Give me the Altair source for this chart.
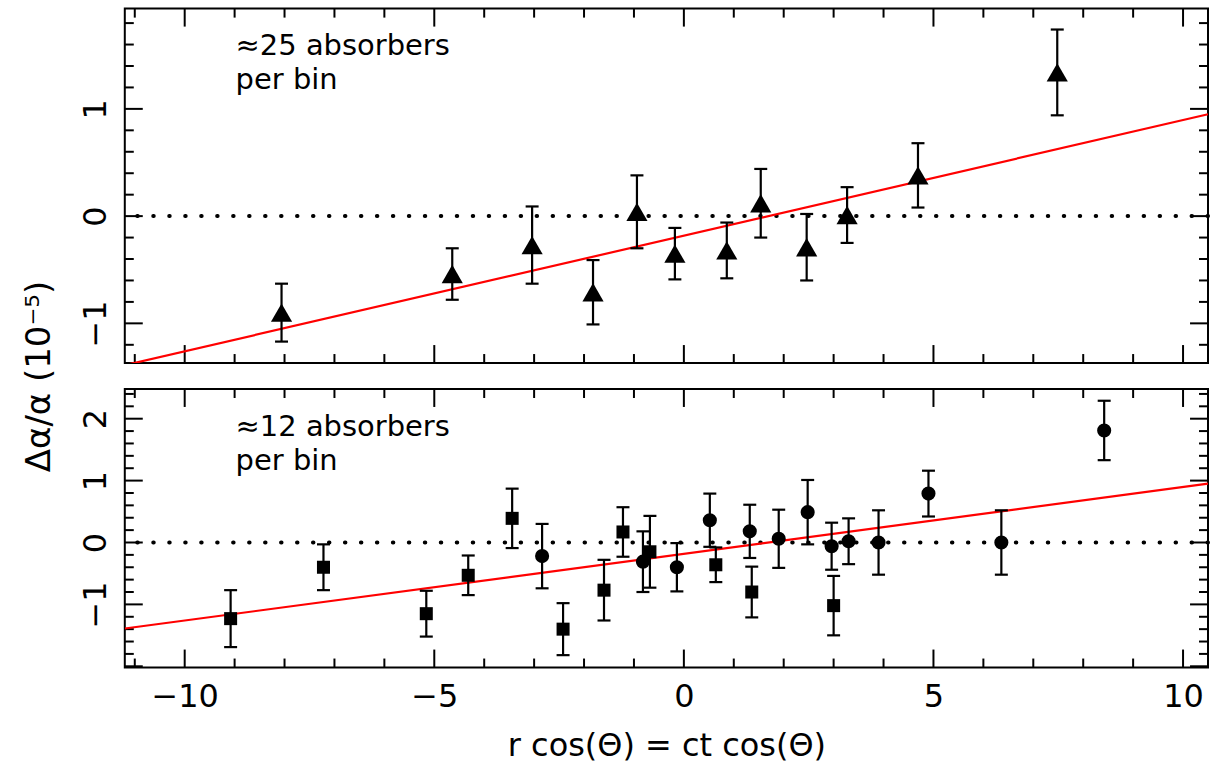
import altair as alt
import pandas as pd

FONT = "DejaVu Sans"

# ---- measurements (units of 1e-5 for delta alpha / alpha) ----
# upper panel: ~25 absorbers per bin
tri_x = [-8.06, -4.64, -3.04, -1.82, -0.94, -0.18, 0.86, 1.54, 2.46, 3.27, 4.69, 7.48]
tri_y = [-0.90, -0.54, -0.27, -0.71, 0.04, -0.35, -0.32, 0.12, -0.29, 0.01, 0.38, 1.34]
tri_err = [0.27, 0.24, 0.36, 0.30, 0.34, 0.24, 0.26, 0.32, 0.31, 0.26, 0.30, 0.40]

# lower panel: ~12 absorbers per bin, two samples
sq_x = [-9.08, -7.22, -5.16, -4.32, -3.44, -2.42, -1.60, -1.22, -0.68, 0.64, 1.36, 3.00]
sq_y = [-1.23, -0.40, -1.15, -0.53, 0.39, -1.40, -0.77, 0.17, -0.15, -0.36, -0.80, -1.02]
sq_err = [0.46, 0.37, 0.37, 0.32, 0.48, 0.42, 0.49, 0.40, 0.58, 0.28, 0.41, 0.48]

ci_x = [-2.84, -0.82, -0.14, 0.52, 1.32, 1.90, 2.48, 2.96, 3.30, 3.90, 4.90, 6.36, 8.42]
ci_y = [-0.22, -0.31, -0.40, 0.36, 0.18, 0.06, 0.49, -0.06, 0.02, 0.00, 0.79, 0.00, 1.81]
ci_err = [0.52, 0.49, 0.39, 0.43, 0.43, 0.47, 0.52, 0.38, 0.37, 0.52, 0.37, 0.52, 0.48]

# dipole fit line end points
fit_x = [-11.2, 10.5]
fit_y = [-1.39, 0.95]

# axis set-up
x_domain = [-11.2, 10.5]
top_domain = [-1.37, 1.935]
bot_domain = [-2.02, 2.48]
x_labels = [-10, -5, 0, 5, 10]
top_labels = [-1, 0, 1]
bot_labels = [-1, 0, 1, 2]

W = 1085
H_TOP = 355
H_BOT = 279
MAJOR = 18
MINOR = 9


def panel(points, shape, size, y_domain, y_labels, h, note, show_x, y_title):
    xs = alt.Scale(domain=x_domain, nice=False, zero=False)
    ys = alt.Scale(domain=y_domain, nice=False, zero=False)

    # label-only axes (the frame ticks are drawn as rules below)
    x_axis = None
    if show_x:
        x_axis = alt.Axis(values=x_labels, ticks=False, domain=False, grid=False,
                          labelFontSize=32, labelFont=FONT, labelColor="black",
                          labelPadding=14, title="r cos(Θ) = ct cos(Θ)",
                          titleFontSize=32, titleFont=FONT, titleFontWeight="normal",
                          titleColor="black", titleY=78, titleBaseline="middle")
    y_kwargs = dict(values=y_labels, ticks=False, domain=False, grid=False,
                    labelFontSize=32, labelFont=FONT, labelColor="black",
                    labelAngle=270, labelAlign="center", labelBaseline="bottom",
                    labelPadding=12)
    if y_title:
        y_axis = alt.Axis(title=y_title, titleAngle=270, titleX=-85, titleY=-13,
                          titleAlign="center", titleBaseline="middle",
                          titleFontSize=34, titleFont=FONT, titleFontWeight="normal",
                          titleColor="black", **y_kwargs)
    else:
        y_axis = alt.Axis(title=None, **y_kwargs)

    def X(field):
        return alt.X(field, scale=xs, axis=x_axis)

    def Y(field):
        return alt.Y(field, scale=ys, axis=y_axis)

    layers = []

    # inward frame ticks on all four sides
    x_major = pd.DataFrame({"v": list(range(-10, 11, 5))})
    x_minor = pd.DataFrame({"v": [v for v in range(-11, 11) if v % 5 != 0]})
    k0 = int(y_domain[0] * 5)
    k1 = int(y_domain[1] * 5)
    y_minor = pd.DataFrame({"v": [k / 5 for k in range(k0, k1 + 1) if k % 5 != 0]})
    y_major = pd.DataFrame({"v": [k for k in range(-3, 4)
                                  if y_domain[0] <= k <= y_domain[1]]})

    for df, ln in ((x_major, MAJOR), (x_minor, MINOR)):
        for y0, y1 in ((0, ln), (h, h - ln)):
            layers.append(
                alt.Chart(df).mark_rule(color="black", strokeWidth=2).encode(
                    x=X("v:Q"), y=alt.value(y0), y2=alt.value(y1)))
    for df, ln in ((y_major, MAJOR), (y_minor, MINOR)):
        for x0, x1 in ((0, ln), (W, W - ln)):
            layers.append(
                alt.Chart(df).mark_rule(color="black", strokeWidth=2).encode(
                    y=Y("v:Q"), x=alt.value(x0), x2=alt.value(x1)))

    # dotted zero line
    layers.append(
        alt.Chart(pd.DataFrame({"v": [0]})).mark_rule(
            color="black", strokeWidth=4, strokeDash=[0.5, 15.5], strokeCap="round"
        ).encode(y=Y("v:Q")))

    # fit line
    layers.append(
        alt.Chart(pd.DataFrame({"x": fit_x, "y": fit_y})).mark_line(
            color="#ff0000", strokeWidth=2.2, clip=True
        ).encode(x=X("x:Q"), y=Y("y:Q")))

    for df, shp, sz in zip(points, shape, size):
        df = df.copy()
        df["lo"] = df["y"] - df["e"]
        df["hi"] = df["y"] + df["e"]
        base = alt.Chart(df)
        layers.append(base.mark_rule(color="black", strokeWidth=2.2).encode(
            x=X("x:Q"), y=Y("lo:Q"), y2="hi:Q"))
        for col in ("lo", "hi"):
            layers.append(base.mark_tick(color="black", orient="horizontal",
                                         size=13, thickness=2.2, opacity=1).encode(
                x=X("x:Q"), y=Y(f"{col}:Q")))
        layers.append(base.mark_point(shape=shp, size=sz, filled=True,
                                      color="black", opacity=1).encode(
            x=X("x:Q"), y=Y("y:Q")))

    # panel note (two lines)
    layers.append(
        alt.Chart(note).mark_text(align="left", baseline="middle", fontSize=29,
                                  font=FONT, color="black", lineBreak="\n",
                                  lineHeight=34).encode(
            x=X("x:Q"), y=Y("y:Q"), text="t:N"))

    return alt.layer(*layers).properties(width=W, height=h)


tri = pd.DataFrame({"x": tri_x, "y": tri_y, "e": tri_err})
sq = pd.DataFrame({"x": sq_x, "y": sq_y, "e": sq_err})
ci = pd.DataFrame({"x": ci_x, "y": ci_y, "e": ci_err})

top_note = pd.DataFrame({"x": [-8.98], "y": [1.59], "t": ["≈25 absorbers\nper bin"]})
bot_note = pd.DataFrame({"x": [-8.98], "y": [1.87], "t": ["≈12 absorbers\nper bin"]})

top = panel([tri], ["triangle-up"], [450], top_domain, top_labels, H_TOP,
            top_note, False, None)
bottom = panel([sq, ci], ["square", "circle"], [170, 200], bot_domain, bot_labels,
               H_BOT, bot_note, True, "Δα/α (10⁻⁵)")

chart = alt.vconcat(top, bottom, spacing=26, bounds="flush").properties(
    padding={"left": 21, "top": 6, "right": 0, "bottom": 0},
    background="white",
).configure(
    font=FONT,
    view=alt.ViewConfig(stroke="black", strokeWidth=2),
)

chart.save("out.html", embed_options={"renderer": "svg", "actions": False})
